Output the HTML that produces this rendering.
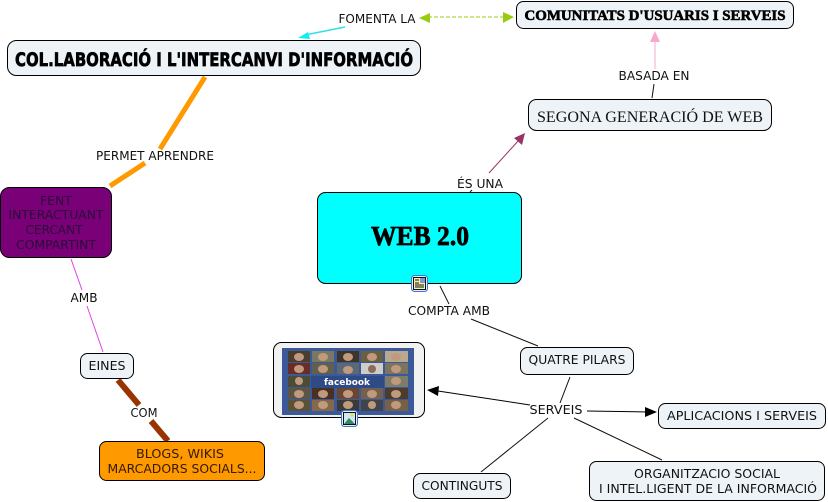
<!DOCTYPE html>
<html>
<head>
<meta charset="utf-8">
<style>
html,body{margin:0;padding:0;background:#fff;}
svg{display:block;}
text{font-family:"DejaVu Sans","Liberation Sans",sans-serif;font-size:12px;fill:#111;text-anchor:middle;}
.n{fill:#edf3f6;stroke:#000;stroke-width:1;}
.disp{font-family:"Liberation Serif",serif;font-weight:bold;stroke:#000;stroke-width:.5px;fill:#000;}
.f{fill:#c09a7c;}
</style>
</head>
<body>
<svg width="828" height="502" viewBox="0 0 828 502" xmlns="http://www.w3.org/2000/svg">
<rect width="828" height="502" fill="#fff"/>

<!-- connectors -->
<line x1="205" y1="77" x2="160" y2="149" stroke="#f90" stroke-width="5"/>
<line x1="145" y1="163" x2="110" y2="186" stroke="#f90" stroke-width="5"/>
<line x1="71" y1="259" x2="82" y2="290" stroke="#e040e8" stroke-width="1"/>
<line x1="87" y1="306" x2="103" y2="352" stroke="#e040e8" stroke-width="1"/>
<line x1="118" y1="380" x2="139" y2="405" stroke="#930" stroke-width="6"/>
<line x1="151" y1="421" x2="168" y2="441" stroke="#930" stroke-width="6"/>

<line x1="345" y1="27" x2="305" y2="35" stroke="#3de" stroke-width="1.5"/>
<polygon points="298,38 308,32 310,39" fill="#1ee"/>
<line x1="428" y1="17" x2="504" y2="17" stroke="#9c1" stroke-width="1" stroke-dasharray="4,2"/>
<polygon points="419,18 430,13 430,23" fill="#9c1"/>
<polygon points="514,17 503,12 503,23" fill="#9c1"/>

<line x1="655" y1="40" x2="655" y2="69" stroke="#f8a8d0" stroke-width="1"/>
<polygon points="655,31 650,42 660,42" fill="#f8a8d0"/>
<line x1="654" y1="84" x2="652" y2="98" stroke="#111" stroke-width="1"/>

<line x1="489" y1="173" x2="519" y2="140" stroke="#936" stroke-width="1"/>
<polygon points="525,133 522,145 514,138" fill="#936"/>
<line x1="470" y1="192" x2="472" y2="190" stroke="#111" stroke-width="1"/>

<line x1="440" y1="286" x2="449" y2="304" stroke="#111" stroke-width="1"/>
<line x1="471" y1="319" x2="538" y2="346" stroke="#111" stroke-width="1"/>
<line x1="570" y1="377" x2="560" y2="403" stroke="#111" stroke-width="1"/>
<line x1="530" y1="405" x2="438" y2="391" stroke="#000" stroke-width="1"/>
<polygon points="427,390 439,386 438,396" fill="#000"/>
<line x1="587" y1="411" x2="648" y2="412" stroke="#000" stroke-width="1"/>
<polygon points="657,412 645,407 645,417" fill="#000"/>
<line x1="548" y1="418" x2="481" y2="472" stroke="#111" stroke-width="1"/>
<line x1="574" y1="418" x2="662" y2="460" stroke="#111" stroke-width="1"/>

<!-- link labels -->
<text x="377" y="23" textLength="77" lengthAdjust="spacingAndGlyphs">FOMENTA LA</text>
<text x="155" y="160" textLength="118" lengthAdjust="spacingAndGlyphs">PERMET APRENDRE</text>
<text x="654" y="80" textLength="71" lengthAdjust="spacingAndGlyphs">BASADA EN</text>
<text x="480" y="188" textLength="46" lengthAdjust="spacingAndGlyphs">ÉS UNA</text>
<text x="449" y="315" textLength="82" lengthAdjust="spacingAndGlyphs">COMPTA AMB</text>
<text x="84" y="302" textLength="27" lengthAdjust="spacingAndGlyphs">AMB</text>
<text x="144" y="417" textLength="27" lengthAdjust="spacingAndGlyphs">COM</text>
<text x="556" y="414" textLength="53" lengthAdjust="spacingAndGlyphs">SERVEIS</text>

<!-- nodes -->
<rect class="n" x="7.5" y="40.5" width="413" height="35" rx="9"/>
<text x="214" y="66" style="font-family:'DejaVu Sans',sans-serif;font-weight:bold;font-size:19px;fill:#000;stroke:#000;stroke-width:.7px" textLength="398" lengthAdjust="spacingAndGlyphs">COL.LABORACIÓ I L'INTERCANVI D'INFORMACIÓ</text>

<rect class="n" x="516.5" y="1.5" width="277" height="27" rx="7"/>
<text class="disp" x="655" y="20" style="font-size:15px;stroke-width:.6px" textLength="261" lengthAdjust="spacingAndGlyphs">COMUNITATS D'USUARIS I SERVEIS</text>

<rect class="n" x="528.5" y="99.5" width="243" height="31" rx="8"/>
<text x="650" y="122" style="font-family:'Liberation Serif',serif;font-size:16px" textLength="226" lengthAdjust="spacingAndGlyphs">SEGONA GENERACIÓ DE WEB</text>

<rect x="317.5" y="192.5" width="204" height="91" rx="8" fill="#0ff" stroke="#000"/>
<text class="disp" x="420" y="245" style="font-size:27px;stroke-width:.7px" textLength="98" lengthAdjust="spacingAndGlyphs">WEB 2.0</text>

<rect x="0.5" y="187.5" width="111" height="70" rx="9" fill="#7a0078" stroke="#000"/>
<text x="56" y="205" style="fill:#2a0a3a" textLength="32" lengthAdjust="spacingAndGlyphs">FENT</text>
<text x="56" y="219" style="fill:#2a0a3a" textLength="95" lengthAdjust="spacingAndGlyphs">INTERACTUANT</text>
<text x="54" y="234" style="fill:#2a0a3a" textLength="57" lengthAdjust="spacingAndGlyphs">CERCANT</text>
<text x="56" y="249" style="fill:#2a0a3a" textLength="80" lengthAdjust="spacingAndGlyphs">COMPARTINT</text>

<rect class="n" x="80.5" y="353.5" width="53" height="25" rx="7"/>
<text x="107" y="370" textLength="37" lengthAdjust="spacingAndGlyphs">EINES</text>

<rect x="99.5" y="441.5" width="165" height="39" rx="7" fill="#f90" stroke="#000"/>
<text x="180" y="458" style="fill:#331a00" textLength="88" lengthAdjust="spacingAndGlyphs">BLOGS, WIKIS</text>
<text x="182" y="473" style="fill:#331a00" textLength="149" lengthAdjust="spacingAndGlyphs">MARCADORS SOCIALS...</text>

<rect class="n" x="520.5" y="347.5" width="113" height="27" rx="7"/>
<text x="577" y="364" textLength="97" lengthAdjust="spacingAndGlyphs">QUATRE PILARS</text>

<rect class="n" x="658.5" y="403.5" width="167" height="25" rx="7"/>
<text x="742" y="420" textLength="150" lengthAdjust="spacingAndGlyphs">APLICACIONS I SERVEIS</text>

<rect class="n" x="589.5" y="461.5" width="235" height="39" rx="7"/>
<text x="707" y="478" textLength="146" lengthAdjust="spacingAndGlyphs">ORGANITZACIO SOCIAL</text>
<text x="708" y="493" textLength="218" lengthAdjust="spacingAndGlyphs">I INTEL.LIGENT DE LA INFORMACIÓ</text>

<rect class="n" x="413.5" y="473.5" width="97" height="25" rx="7"/>
<text x="462" y="490" textLength="81" lengthAdjust="spacingAndGlyphs">CONTINGUTS</text>

<!-- facebook image node -->
<rect x="273.5" y="342.5" width="151" height="75" rx="8" fill="#f1f1f1" stroke="#000"/>
<rect x="282" y="348" width="132" height="67" fill="#3b5998"/>
<g>
<rect x="288" y="351" width="22" height="11" fill="#4a3c2e"/><rect x="312" y="351" width="22" height="11" fill="#7a7860"/><rect x="337" y="351" width="22" height="11" fill="#3e3428"/><rect x="361" y="351" width="22" height="11" fill="#6a6040"/><rect x="385" y="351" width="23" height="11" fill="#b8a890"/>
<rect x="288" y="363" width="22" height="11" fill="#6a2c24"/><rect x="312" y="363" width="22" height="11" fill="#60604c"/><rect x="337" y="363" width="22" height="11" fill="#5c6874"/><rect x="361" y="363" width="22" height="11" fill="#d0ccc8"/><rect x="385" y="363" width="23" height="11" fill="#7c745e"/>
<rect x="288" y="376" width="22" height="11" fill="#4c4c34"/><rect x="385" y="376" width="23" height="11" fill="#807c6a"/>
<rect x="288" y="388" width="22" height="11" fill="#5e5444"/><rect x="312" y="388" width="22" height="11" fill="#4a3020"/><rect x="337" y="388" width="22" height="11" fill="#6a4630"/><rect x="361" y="388" width="22" height="11" fill="#74604c"/><rect x="385" y="388" width="23" height="11" fill="#4e3c2a"/>
<rect x="288" y="400" width="22" height="11" fill="#5a5238"/><rect x="312" y="400" width="22" height="11" fill="#84684a"/><rect x="337" y="400" width="22" height="11" fill="#3a3a3a"/><rect x="361" y="400" width="22" height="11" fill="#40444c"/><rect x="385" y="400" width="23" height="11" fill="#786048"/>
<g class="f">
<ellipse cx="299" cy="357" rx="5" ry="4"/><ellipse cx="323" cy="357" rx="5" ry="4"/><ellipse cx="348" cy="357" rx="5" ry="4"/><ellipse cx="372" cy="357" rx="5" ry="4"/><ellipse cx="396" cy="357" rx="5" ry="4"/>
<ellipse cx="299" cy="369" rx="5" ry="4"/><ellipse cx="323" cy="369" rx="5" ry="4"/><ellipse cx="348" cy="370" rx="5" ry="4"/><ellipse cx="372" cy="369" rx="4" ry="4" fill="#8c6c58"/><ellipse cx="396" cy="369" rx="5" ry="4"/>
<ellipse cx="299" cy="381" rx="4" ry="4"/><ellipse cx="396" cy="381" rx="5" ry="4"/>
<ellipse cx="299" cy="394" rx="5" ry="4"/><ellipse cx="323" cy="394" rx="5" ry="4"/><ellipse cx="348" cy="394" rx="5" ry="4"/><ellipse cx="372" cy="394" rx="5" ry="4"/><ellipse cx="396" cy="394" rx="5" ry="4"/>
<ellipse cx="299" cy="405" rx="5" ry="4"/><ellipse cx="323" cy="405" rx="5" ry="4"/><ellipse cx="348" cy="405" rx="5" ry="4"/><ellipse cx="372" cy="405" rx="4" ry="4"/><ellipse cx="396" cy="405" rx="5" ry="4"/>
</g>
</g>
<rect x="311" y="376" width="73" height="12" fill="#2f4b86"/>
<text x="347" y="385" style="font-family:'DejaVu Sans',sans-serif;font-weight:bold;font-size:9px;fill:#fff" textLength="46" lengthAdjust="spacingAndGlyphs">facebook</text>

<!-- icons -->
<rect x="411.5" y="275.5" width="16" height="16" rx="3" fill="#e8f0fa" stroke="#3a78d8"/>
<rect x="413.5" y="277.5" width="12" height="12" fill="#f8eeb0" stroke="#111"/>
<rect x="420" y="278" width="5" height="5" fill="#7a9cc8"/>
<path d="M415 280h4M415 283h4M415 285h9M415 287h9" stroke="#111" stroke-width="1" fill="none"/>

<rect x="341.5" y="410.5" width="16" height="16" rx="3" fill="#e8f0fa" stroke="#3a78d8"/>
<rect x="343.5" y="412.5" width="12" height="12" fill="#cfe6f8" stroke="#111"/>
<path d="M344 424l5-6 6 6z" fill="#2e8a5c"/>
<circle cx="352" cy="415" r="1.6" fill="#f4d848"/>
</svg>
</body>
</html>
